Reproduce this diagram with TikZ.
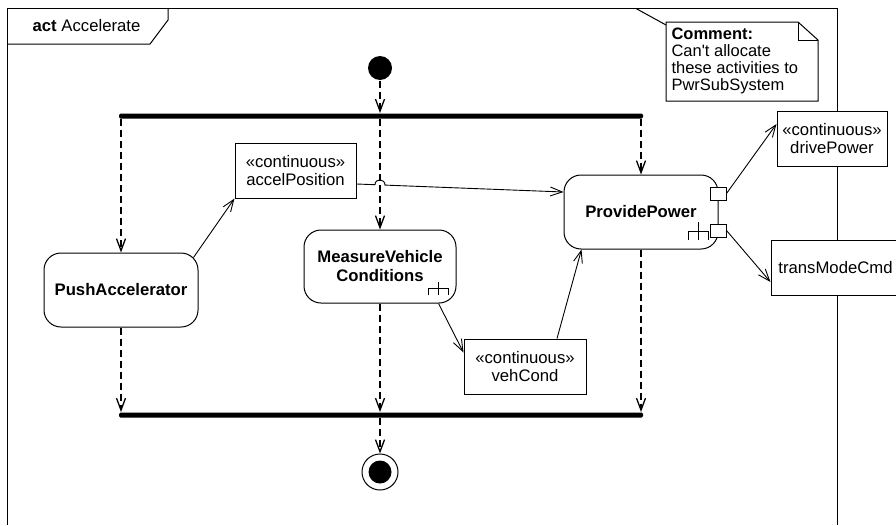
\documentclass[tikz,border=0pt]{standalone}
\usepackage{fontspec}
\setmainfont{Liberation Sans}
\usetikzlibrary{arrows.meta}
\begin{document}
\begin{tikzpicture}[x=1pt,y=-1pt,
  font=\fontsize{16.7}{18}\selectfont,
  line width=1pt,
  tip/.style={-{Straight Barb[length=12pt,width=9pt]}},
  cflow/.style={tip, line width=1.3pt, dash pattern=on 7pt off 4pt},
  oflow/.style={tip, line width=0.9pt},
  action/.style={draw, fill=white, rounded corners=17pt, align=center, inner sep=0pt,
    font=\fontsize{16.7}{19}\selectfont\bfseries},
  objbox/.style={draw, fill=white, align=center, inner sep=0pt,
    font=\fontsize{16.7}{17.5}\selectfont},
  pin/.style={draw, fill=white, minimum width=16pt, minimum height=13pt, inner sep=0pt},
  bar/.style={fill=black, minimum height=5pt, inner sep=0pt, rounded corners=1.5pt},
  rake/.style={line width=0.9pt}
]
\useasboundingbox (0,0) rectangle (896,525);
\fill[white] (0,0) rectangle (896,525);

% frame
\draw (7,525) -- (7,8.5) -- (837,8.5) -- (837,525);
\draw (7,44) -- (150,44) -- (168,20) -- (168,8.5);
\node[anchor=center] (title) at (86.5,26) {\textbf{act} Accelerate};

% comment
\coordinate (cmtA) at (636,8.5);
\draw[fill=white] (666,22) -- (798,22) -- (818,40) -- (818,101) -- (666,101) -- cycle;
\draw (798,22) -- (798,40) -- (818,40);
\coordinate (cmtB) at (666,25);
\draw (cmtA) -- (cmtB);
\node[anchor=north west, align=left, inner sep=0pt, font=\fontsize{16.5}{17}\selectfont]
  (cmt) at (671,27) {\textbf{Comment:}\\Can\textquotesingle t allocate\\these activities to\\PwrSubSystem};

% initial / final
\node[circle, fill=black, minimum size=24pt, inner sep=0pt] (init) at (380,68) {};
\node[circle, draw, fill=white, minimum size=36pt, inner sep=0pt] (final) at (380,472) {};
\node[circle, fill=black, minimum size=23pt, inner sep=0pt] (finaldot) at (final.center) {};

% bars
\node[bar, minimum width=524pt] (fork) at (381,116) {};
\node[bar, minimum width=524pt] (join) at (381,415) {};

% actions
\node[action, minimum width=154pt, minimum height=74pt] (pa) at (121,290) {PushAccelerator};
\node[action, minimum width=152pt, minimum height=73pt] (mvc) at (380,266.5) {MeasureVehicle\\Conditions};
\node[action, minimum width=154pt, minimum height=74pt] (pp) at (641,212) {ProvidePower};

% rakes
\draw[rake] (438,282) -- (438,295) (428,295) -- (428,288) -- (448,288) -- (448,295);
\draw[rake] (698,222) -- (698,240) (688,240) -- (688,231) -- (708,231) -- (708,240);

% pins
\node[pin] (p1) at (718,193.5) {};
\node[pin] (p2) at (718,230.5) {};

% objects
\node[objbox, minimum width=121pt, minimum height=55pt] (ap) at (295.5,170.5) {«continuous»\\accelPosition};
\node[objbox, minimum width=122pt, minimum height=55pt] (vc) at (525,366.5) {«continuous»\\vehCond};
\node[objbox, minimum width=110pt, minimum height=55pt] (dp) at (832,138.5) {«continuous»\\drivePower};
\node[objbox, minimum width=129pt, minimum height=55pt] (tm) at (835.5,267.5) {transModeCmd};

% control flows
\draw[cflow] (init.south) -- (init.south |- fork.north);
\draw[cflow] (fork.south -| pa.north) -- (pa.north);
\draw[cflow] (fork.south -| mvc.north) -- (mvc.north);
\draw[cflow] (fork.south -| pp.north) -- (pp.north);
\draw[cflow] (pa.south) -- (pa.south |- join.north);
\draw[cflow] (mvc.south) -- (mvc.south |- join.north);
\draw[cflow] (pp.south) -- (pp.south |- join.north);
\draw[cflow] (join.south -| final.north) -- (final.north);

% object flows
\draw[oflow] ([xshift=-5pt,yshift=-5pt]pa.north east) -- (ap.south west);
\draw[oflow] ([yshift=-13.5pt]ap.east) -- (375,184.7)
  .. controls (375,178) and (385,178.4) .. (385,185.1) -- ([yshift=20pt]pp.west);
\draw[oflow] ([xshift=-18pt]mvc.south east) -- ([yshift=-14pt]vc.north west);
\draw[oflow] ([xshift=32pt]vc.north) -- ([xshift=18pt]pp.south west);
\draw[oflow] (p1.east) -- ([yshift=14.5pt]dp.west);
\draw[oflow] (p2.east) -- ([yshift=-14.5pt]tm.west);
\end{tikzpicture}
\end{document}
